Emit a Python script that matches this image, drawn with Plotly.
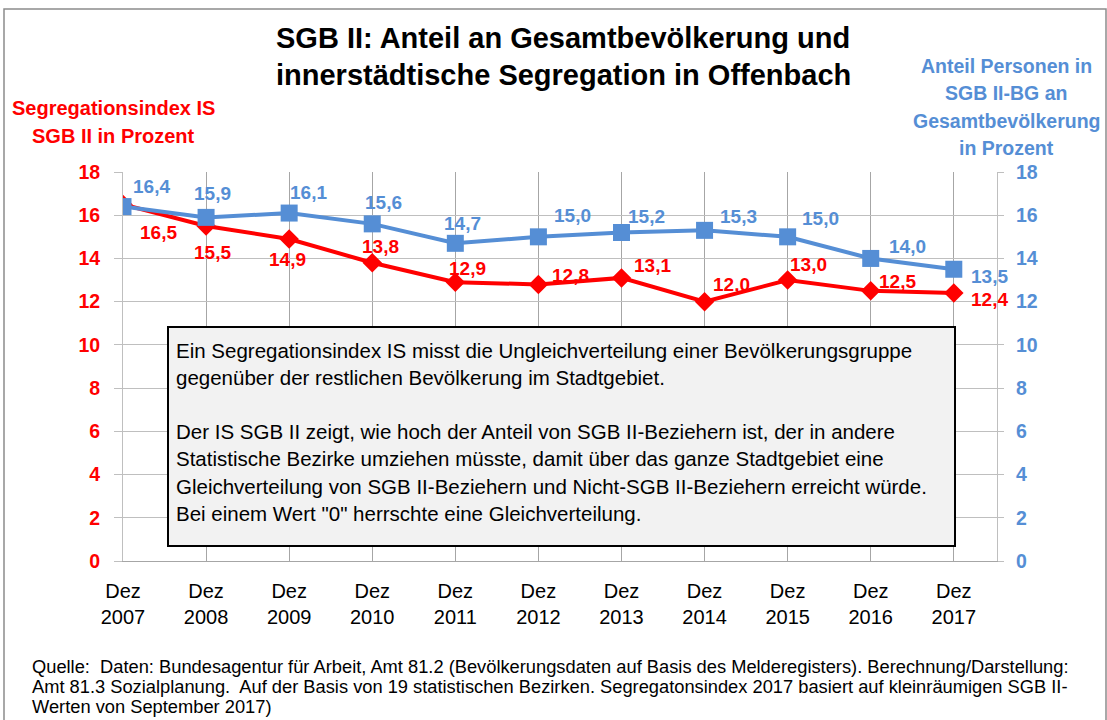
import plotly.graph_objects as go

# ---- data ----
years = ["2007", "2008", "2009", "2010", "2011", "2012", "2013", "2014", "2015", "2016", "2017"]
tick_labels = ["Dez<br>" + y for y in years]
segregation_index = [16.5, 15.5, 14.9, 13.8, 12.9, 12.8, 13.1, 12.0, 13.0, 12.5, 12.4]
sgb_share = [16.4, 15.9, 16.1, 15.6, 14.7, 15.0, 15.2, 15.3, 15.0, 14.0, 13.5]
y_ticks = [0, 2, 4, 6, 8, 10, 12, 14, 16, 18]

title_lines = ["SGB II: Anteil an Gesamtbevölkerung und",
               "innerstädtische Segregation in Offenbach"]
left_title_lines = ["Segregationsindex IS", "SGB II in Prozent"]
right_title_lines = ["Anteil Personen in", "SGB II-BG an", "Gesamtbevölkerung", "in Prozent"]
box_lines = ["Ein Segregationsindex IS misst die Ungleichverteilung einer Bevölkerungsgruppe",
             "gegenüber der restlichen Bevölkerung im Stadtgebiet.",
             "Der IS SGB II zeigt, wie hoch der Anteil von SGB II-Beziehern ist, der in andere",
             "Statistische Bezirke umziehen müsste, damit über das ganze Stadtgebiet eine",
             "Gleichverteilung von SGB II-Beziehern und Nicht-SGB II-Beziehern erreicht würde.",
             "Bei einem Wert \"0\" herrschte eine Gleichverteilung."]
footer_lines = ["Quelle:  Daten: Bundesagentur für Arbeit, Amt 81.2 (Bevölkerungsdaten auf Basis des Melderegisters). Berechnung/Darstellung:",
                "Amt 81.3 Sozialplanung.  Auf der Basis von 19 statistischen Bezirken. Segregatonsindex 2017 basiert auf kleinräumigen SGB II-",
                "Werten von September 2017)"]

# ---- styles ----
RED = "#FF0000"
BLUE = "#558ED5"
FONT = "Liberation Sans, Arial, sans-serif"
red_label_shift = [(35, -28), (6, -26), (-2, -21), (8, 16), (12, 14), (32, 9),
                   (31, 12), (27, 17), (21, 16), (27, 9), (36, -6)]
blue_label_shift = [(28, 20), (6, 24), (19, 21), (11, 21), (7, 20), (34, 21),
                    (25, 16), (34, 14), (33, 18), (37, 12), (36, -7)]
title_y = [38, 75]
left_title_y = [108, 136]
right_title_y = [66, 93, 121, 148]
box_y = [350, 377, 431, 458, 486, 513]
footer_y = [666, 686, 706]

x = list(range(len(years)))

fig = go.Figure()
fig.add_trace(go.Scatter(
    x=x, y=segregation_index, mode="lines+markers", yaxis="y",
    line=dict(color=RED, width=4),
    marker=dict(symbol="diamond", size=15, color=RED),
    showlegend=False, hoverinfo="skip"))
fig.add_trace(go.Scatter(
    x=x, y=sgb_share, mode="lines+markers", yaxis="y2",
    line=dict(color=BLUE, width=4),
    marker=dict(symbol="square", size=17, color=BLUE),
    showlegend=False, hoverinfo="skip"))

annotations = []
for i, v in enumerate(segregation_index):
    dx, dy = red_label_shift[i]
    annotations.append(dict(x=i, y=v, xref="x", yref="y", text=f"{v:.1f}".replace(".", ","),
                            showarrow=False, xshift=dx, yshift=dy,
                            font=dict(family=FONT, size=19, color=RED, weight="bold")))
for i, v in enumerate(sgb_share):
    dx, dy = blue_label_shift[i]
    annotations.append(dict(x=i, y=v, xref="x", yref="y2", text=f"{v:.1f}".replace(".", ","),
                            showarrow=False, xshift=dx, yshift=dy,
                            font=dict(family=FONT, size=19, color=BLUE, weight="bold")))

# pixel helpers for paper coordinates
L, R, T, B = 123, 997, 172, 561
def px(xp):
    return (xp - L) / (R - L)
def py(yp):
    return (B - yp) / (B - T)

def add_lines(lines, ys, xp, anchor, font):
    for t, yy in zip(lines, ys):
        annotations.append(dict(x=px(xp), y=py(yy), xref="paper", yref="paper", text=t,
                                showarrow=False, xanchor=anchor, yanchor="middle",
                                align=anchor if anchor != "center" else "center", font=font))

add_lines(title_lines, title_y, 563, "center", dict(family=FONT, size=29, color="black", weight="bold"))
add_lines(left_title_lines, left_title_y, 113, "center", dict(family=FONT, size=20, color=RED, weight="bold"))
add_lines(right_title_lines, right_title_y, 1006, "center", dict(family=FONT, size=19.5, color=BLUE, weight="bold"))
add_lines(box_lines, box_y, 174, "left", dict(family=FONT, size=20.5, color="black"))
add_lines(footer_lines, footer_y, 30, "left", dict(family=FONT, size=18.3, color="black"))

shapes = [
    dict(type="rect", xref="paper", yref="paper", x0=px(168), x1=px(955), y0=py(546), y1=py(327),
         fillcolor="#F2F2F2", line=dict(color="black", width=2), layer="above"),
    dict(type="rect", xref="paper", yref="paper", x0=px(4), x1=px(1106), y0=py(725), y1=py(9),
         fillcolor="rgba(0,0,0,0)", line=dict(color="#8C8C8C", width=1.5), layer="below"),
]

fig.update_layout(
    width=1107, height=720,
    margin=dict(l=L, r=1107 - R, t=T, b=720 - B),
    paper_bgcolor="white", plot_bgcolor="white",
    xaxis=dict(range=[0, 10.52], tickmode="array", tickvals=x, ticktext=tick_labels,
               showgrid=True, gridcolor="#A6A6A6", gridwidth=1,
               showline=True, linecolor="#A6A6A6", linewidth=1,
               ticks="", zeroline=False, ticklabelstandoff=12,
               tickfont=dict(family=FONT, size=20, color="black")),
    yaxis=dict(range=[0, 18], tickmode="array", tickvals=y_ticks,
               showgrid=True, gridcolor="#BFBFBF", gridwidth=1,
               showline=True, linecolor="#BFBFBF", ticks="outside", ticklen=8,
               tickcolor="#BFBFBF", zeroline=False, ticklabelstandoff=10,
               tickfont=dict(family=FONT, size=19.5, color=RED, weight="bold")),
    yaxis2=dict(range=[0, 18], tickmode="array", tickvals=y_ticks, overlaying="y", side="right",
                showgrid=False, showline=True, linecolor="#BFBFBF", ticks="outside", ticklen=6,
                tickcolor="#BFBFBF", zeroline=False, ticklabelstandoff=8,
                tickfont=dict(family=FONT, size=19.5, color=BLUE, weight="bold")),
    annotations=annotations,
    shapes=shapes,
)

fig.write_html("out.html", config={"displayModeBar": False},
               post_script="document.body.style.margin='0';document.body.style.overflow='hidden';")
